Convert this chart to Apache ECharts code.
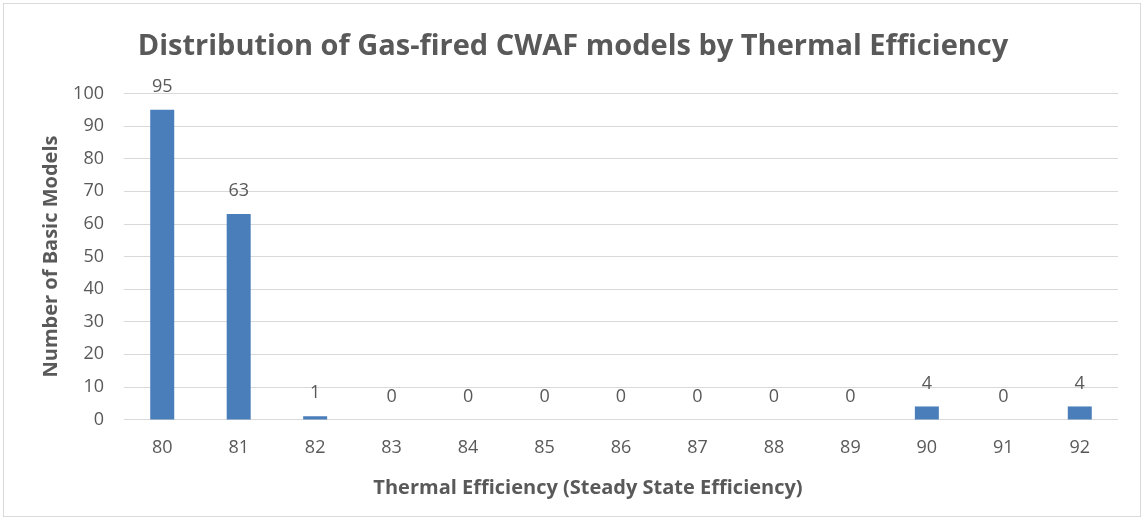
<!DOCTYPE html>
<html>
<head>
<meta charset="utf-8">
<script src="https://cdn.jsdelivr.net/npm/echarts@6/dist/echarts.min.js"></script>
<style>
  html, body { margin: 0; padding: 0; background: #ffffff; }
  #frame { position: absolute; left: 3px; top: 3px; width: 1138px; height: 514px; border: 1px solid #d9d9d9; box-sizing: border-box; }
  #chart { width: 1144px; height: 528px; }
</style>
</head>
<body>
<div id="frame"></div>
<div id="chart"></div>
<script>
// Thermal efficiency bins (%) and number of basic models in each
const efficiencyBins = ['80', '81', '82', '83', '84', '85', '86', '87', '88', '89', '90', '91', '92'];
const modelCounts = [95, 63, 1, 0, 0, 0, 0, 0, 0, 0, 4, 0, 4];
const yTicks = { min: 0, max: 100, interval: 10 };

const FONT = '"Open Sans", Lato, sans-serif';
const GREY = '#595959';

const chart = echarts.init(document.getElementById('chart'), null, { renderer: 'canvas' });
chart.setOption({
  backgroundColor: 'transparent',
  animation: false,
  title: {
    text: 'Distribution of Gas-fired CWAF models by Thermal Efficiency',
    left: 568,
    top: 27,
    textAlign: 'center',
    textStyle: { fontFamily: FONT, fontSize: 29, fontWeight: 'bold', color: GREY }
  },
  grid: { left: 124, right: 26, top: 93.5, bottom: 108.5, containLabel: false },
  xAxis: {
    type: 'category',
    data: efficiencyBins,
    axisTick: { show: false },
    axisLine: { show: false },
    axisLabel: { margin: 19, fontFamily: FONT, fontSize: 18, color: GREY },
    name: 'Thermal Efficiency (Steady State Efficiency)',
    nameLocation: 'middle',
    nameGap: 59,
    nameTextStyle: { fontFamily: FONT, fontSize: 20, fontWeight: 'bold', color: GREY, padding: [0, 66, 0, 0] }
  },
  yAxis: {
    type: 'value',
    min: yTicks.min,
    max: yTicks.max,
    interval: yTicks.interval,
    axisLine: { show: false },
    axisTick: { show: false },
    splitLine: { lineStyle: { color: '#d9d9d9', width: 1 } },
    axisLabel: { margin: 20, fontFamily: FONT, fontSize: 18, color: GREY },
    name: 'Number of Basic Models',
    nameLocation: 'middle',
    nameGap: 63,
    nameTextStyle: { fontFamily: FONT, fontSize: 20, fontWeight: 'bold', color: GREY }
  },
  series: [{
    type: 'bar',
    data: modelCounts,
    barWidth: 24,
    itemStyle: { color: '#4a7ebb' },
    label: {
      show: true,
      position: 'top',
      distance: 14,
      fontFamily: FONT,
      fontSize: 18,
      color: GREY
    }
  }]
});
</script>
</body>
</html>
